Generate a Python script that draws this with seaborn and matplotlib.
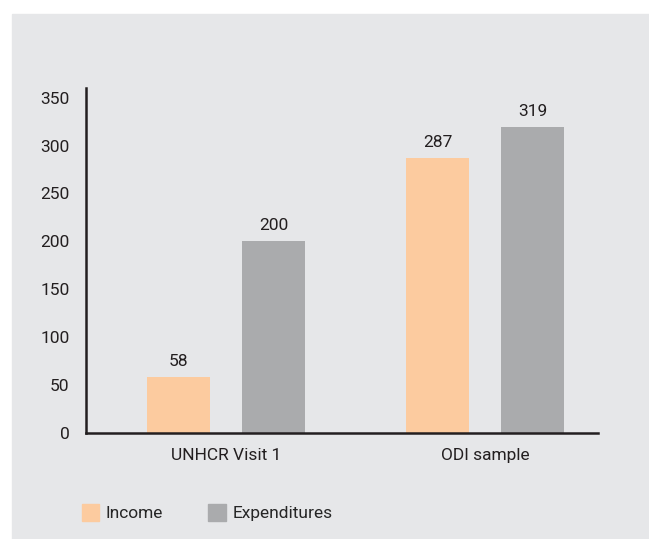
import seaborn as sns
import matplotlib.pyplot as plt
import matplotlib.patches as mpatches
import pandas as pd

groups = ["UNHCR Visit 1", "ODI sample"]
series = ["Income", "Expenditures"]
income = [58, 287]
expenditures = [200, 319]

colors = ["#fccb9f", "#aaabad"]
bg = "#e6e7e9"

df = pd.DataFrame({
    "group": groups * 2,
    "series": [series[0]] * 2 + [series[1]] * 2,
    "value": income + expenditures,
})

sns.set_style("white")
plt.rcParams["font.family"] = ["Roboto", "DejaVu Sans"]

fig = plt.figure(figsize=(6.49, 5.39), dpi=100)
fig.patch.set_facecolor("white")
fig.patches.append(mpatches.Rectangle((12 / 649, 0), 1, 1 - 14 / 539,
                                      transform=fig.transFigure, color=bg, zorder=-1))

ax = fig.add_axes([86 / 649, 1 - 433 / 539, (598 - 86) / 649, (433 - 88) / 539])
ax.set_facecolor(bg)
sns.barplot(data=df, x="group", y="value", hue="series", palette=colors,
            width=0.734, gap=0.34, saturation=1, linewidth=0, ax=ax, legend=False)

for cont in ax.containers:
    ax.bar_label(cont, padding=6, fontsize=12.5, color="#231f20")

ax.set_xlim(-0.54, 1.436)
ax.set_ylim(0, 360)
ax.set_yticks(range(0, 351, 50))
ax.tick_params(axis="both", length=0, labelsize=12.5, colors="#231f20")
ax.tick_params(axis="y", pad=12)
ax.tick_params(axis="x", pad=11)
ax.set_xlabel("")
ax.set_ylabel("")
for s in ["top", "right"]:
    ax.spines[s].set_visible(False)
for s in ["left", "bottom"]:
    ax.spines[s].set_color("#231f20")
    ax.spines[s].set_linewidth(1.8)

handles = [mpatches.Patch(color=c, label=l) for c, l in zip(colors, series)]
fig.legend(handles=handles, loc="lower left", bbox_to_anchor=(66 / 649, 2 / 539),
           ncol=2, frameon=False, fontsize=12.5, handlelength=1.0, handleheight=1.1,
           handletextpad=0.4, columnspacing=2.6)

fig.savefig("out.png", dpi=100, facecolor=fig.get_facecolor())
